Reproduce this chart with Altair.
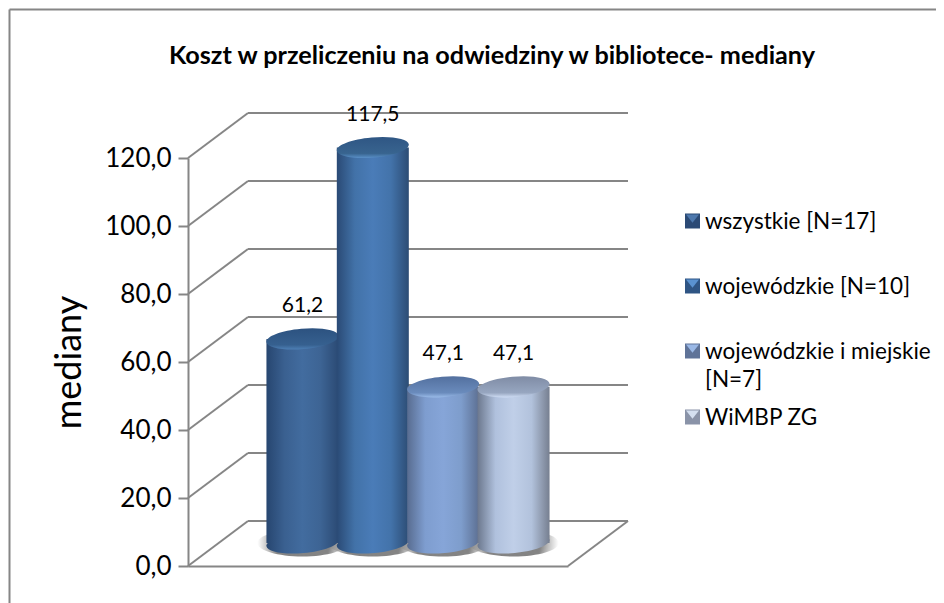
import altair as alt
import pandas as pd

series = ["wszystkie [N=17]", "wojewódzkie [N=10]", "wojewódzkie i miejskie [N=7]", "WiMBP ZG"]
values = [61.2, 117.5, 47.1, 47.1]
value_labels = ["61,2", "117,5", "47,1", "47,1"]
ticks = [0, 20, 40, 60, 80, 100, 120]
legend_lines = ["wszystkie [N=17]", "wojewódzkie [N=10]", "wojewódzkie i miejskie\n[N=7]", "WiMBP ZG"]

side_stops = [
    ["#274670", "#3a6090", "#426c9f", "#3d6494", "#2b4a74"],
    ["#2a4a75", "#4272a8", "#4a7cb8", "#4373aa", "#2c4c74"],
    ["#586c90", "#7e9dcf", "#86a5d8", "#7e9dcc", "#5c6f92"],
    ["#6c788e", "#b0c1dd", "#c0cfe8", "#b2c2dc", "#767f90"],
]
top_stops = [
    ["#2c5280", "#36608f", "#4d7fb5"],
    ["#2f5684", "#38648f", "#5a90c8"],
    ["#53709f", "#6a8bbc", "#9abbe8"],
    ["#7f8ca5", "#97a6c0", "#d0def5"],
]
legend_base = ["#2b4a75", "#2f5584", "#5f7398", "#8a93a8"]
legend_tri = ["#4d78ad", "#5a92d0", "#9ab8e6", "#d4dff0"]

W, H = 380, 408
DX, DY = 60, 45
GRID = "#868686"
FONT = "Lato"

ELLIPSE = "M-1,0.09 A1,0.28 -5 1 1 1,-0.09 A1,0.28 -5 1 1 -1,0.09 Z"
TRI = "M-1,-1 L1,-1 L0,0.25 Z"


def hgrad(cols):
    n = len(cols) - 1
    return alt.Gradient(
        gradient="linear", x1=0, x2=1, y1=0, y2=0,
        stops=[alt.GradientStop(offset=i / n, color=c) for i, c in enumerate(cols)],
    )


def vgrad(cols):
    offs = [0, 0.78, 1]
    return alt.Gradient(
        gradient="linear", x1=0, x2=0, y1=0, y2=1,
        stops=[alt.GradientStop(offset=o, color=c) for o, c in zip(offs, cols)],
    )


x_scale = alt.Scale(type="band", domain=series, paddingInner=0, paddingOuter=0.7)
y_scale = alt.Scale(domain=[0, 120], nice=False)

df = pd.DataFrame({"series": series, "value": values, "label": value_labels})
grid = pd.DataFrame({"v": ticks})
floor = pd.DataFrame({"v": [0]})

Y = alt.Y(
    "v:Q", scale=y_scale, title="mediany",
    axis=alt.Axis(
        values=ticks, grid=False, domainColor=GRID, domainWidth=2, tickColor=GRID, tickWidth=2,
        tickSize=10, labelFontSize=26, labelFont=FONT, labelColor="#000", labelPadding=7,
        labelExpr="replace(format(datum.value,'.1f'),'.',',')",
        titleFontSize=36, titleFont=FONT, titleFontWeight="normal", titleColor="#000", titlePadding=16,
    ),
)
X = alt.X(
    "series:N", scale=x_scale, sort=series, title=None,
    axis=alt.Axis(labels=False, ticks=False, domainColor=GRID, domainWidth=2),
)

layers = []

layers.append(
    alt.Chart(grid).mark_rule(color=GRID, strokeWidth=2, yOffset=-DY)
    .encode(x=alt.value(DX), x2=alt.value(W + DX), y=Y)
)
layers.append(
    alt.Chart(grid).mark_rule(color=GRID, strokeWidth=2, y2Offset=-DY)
    .encode(x=alt.value(0), x2=alt.value(DX), y=alt.Y("v:Q", scale=y_scale), y2="v:Q")
)
layers.append(
    alt.Chart(floor).mark_rule(color=GRID, strokeWidth=2, y2Offset=-DY)
    .encode(x=alt.value(W), x2=alt.value(W + DX), y=alt.Y("v:Q", scale=y_scale), y2="v:Q")
)
layers.append(alt.Chart(df).mark_bar(opacity=0).encode(x=X, y=alt.Y("value:Q", scale=y_scale, stack=None)))

shadow = alt.Gradient(
    gradient="radial", x1=0.5, y1=0.5, x2=0.5, y2=0.5, r1=0.3, r2=0.5,
    stops=[alt.GradientStop(offset=0, color="rgba(90,90,90,0.75)"), alt.GradientStop(offset=1, color="rgba(120,120,120,0)")],
)
layers.append(
    alt.Chart(df).mark_point(filled=True, shape="M-1,0 A1,0.3 0 1 1 1,0 A1,0.3 0 1 1 -1,0 Z", size=8100,
                             fill=shadow, opacity=1, xOffset=DX / 2, yOffset=-23)
    .encode(x=alt.X("series:N", scale=x_scale, sort=series), y=alt.datum(0, scale=y_scale))
)

for i, s in enumerate(series):
    one = df[df["series"] == s]
    xe = alt.X("series:N", scale=x_scale, sort=series)
    layers.append(
        alt.Chart(one).mark_point(filled=True, shape=ELLIPSE, size=5184, opacity=1,
                                  fill=hgrad(side_stops[i]), xOffset=DX / 2, yOffset=-23)
        .encode(x=xe, y=alt.datum(0, scale=y_scale))
    )
    layers.append(
        alt.Chart(one).mark_bar(size=72, fill=hgrad(side_stops[i]), xOffset=DX / 2, yOffset=-19)
        .encode(x=xe, y=alt.Y("value:Q", scale=y_scale, stack=None), y2=alt.value(H - 23))
    )
    layers.append(
        alt.Chart(one).mark_point(filled=True, shape=ELLIPSE, size=5184, opacity=1,
                                  fill=vgrad(top_stops[i]), xOffset=DX / 2, yOffset=-19)
        .encode(x=xe, y=alt.Y("value:Q", scale=y_scale, stack=None))
    )

layers.append(
    alt.Chart(df).mark_text(font=FONT, fontSize=21, color="#000", xOffset=DX / 2, yOffset=-19, dy=-33)
    .encode(x=alt.X("series:N", scale=x_scale, sort=series), y=alt.Y("value:Q", scale=y_scale, stack=None), text="label:N")
)

LEG_Y = [63, 128, 193, 259]
for i, s in enumerate(series):
    row = pd.DataFrame({"t": [legend_lines[i]]})
    layers.append(
        alt.Chart(row).mark_point(filled=True, shape="square", size=225, opacity=1, fill=legend_base[i])
        .encode(x=alt.value(504.5), y=alt.value(LEG_Y[i]))
    )
    layers.append(
        alt.Chart(row).mark_point(filled=True, shape=TRI, size=169, opacity=1, fill=legend_tri[i])
        .encode(x=alt.value(504.5), y=alt.value(LEG_Y[i]))
    )
    layers.append(
        alt.Chart(row).mark_text(font=FONT, fontSize=22.5, color="#000", align="left", baseline="top",
                                 lineBreak="\n", lineHeight=28, dy=-10)
        .encode(x=alt.value(517), y=alt.value(LEG_Y[i]), text="t:N")
    )

frame = "#868686"
layers.append(alt.Chart(floor).mark_rule(color=frame, strokeWidth=2)
              .encode(x=alt.value(-178.5), x2=alt.value(748), y=alt.value(-148.5)))
layers.append(alt.Chart(floor).mark_rule(color=frame, strokeWidth=2)
              .encode(x=alt.value(-178.5), y=alt.value(-148.5), y2=alt.value(445)))

chart = (
    alt.layer(*layers)
    .properties(
        width=W, height=H,
        padding={"left": 180, "top": 150, "right": 368, "bottom": 37},
        autosize=alt.AutoSizeParams(type="none"),
        title=alt.TitleParams(
            "Koszt w przeliczeniu na odwiedziny w bibliotece- mediany",
            font=FONT, fontSize=25.2, fontWeight="bold", color="#000", anchor="middle", dx=114, offset=-61,
        ),
    )
    .configure_view(stroke=None)
)

chart.save("out.html", embed_options={"renderer": "svg", "actions": False})
